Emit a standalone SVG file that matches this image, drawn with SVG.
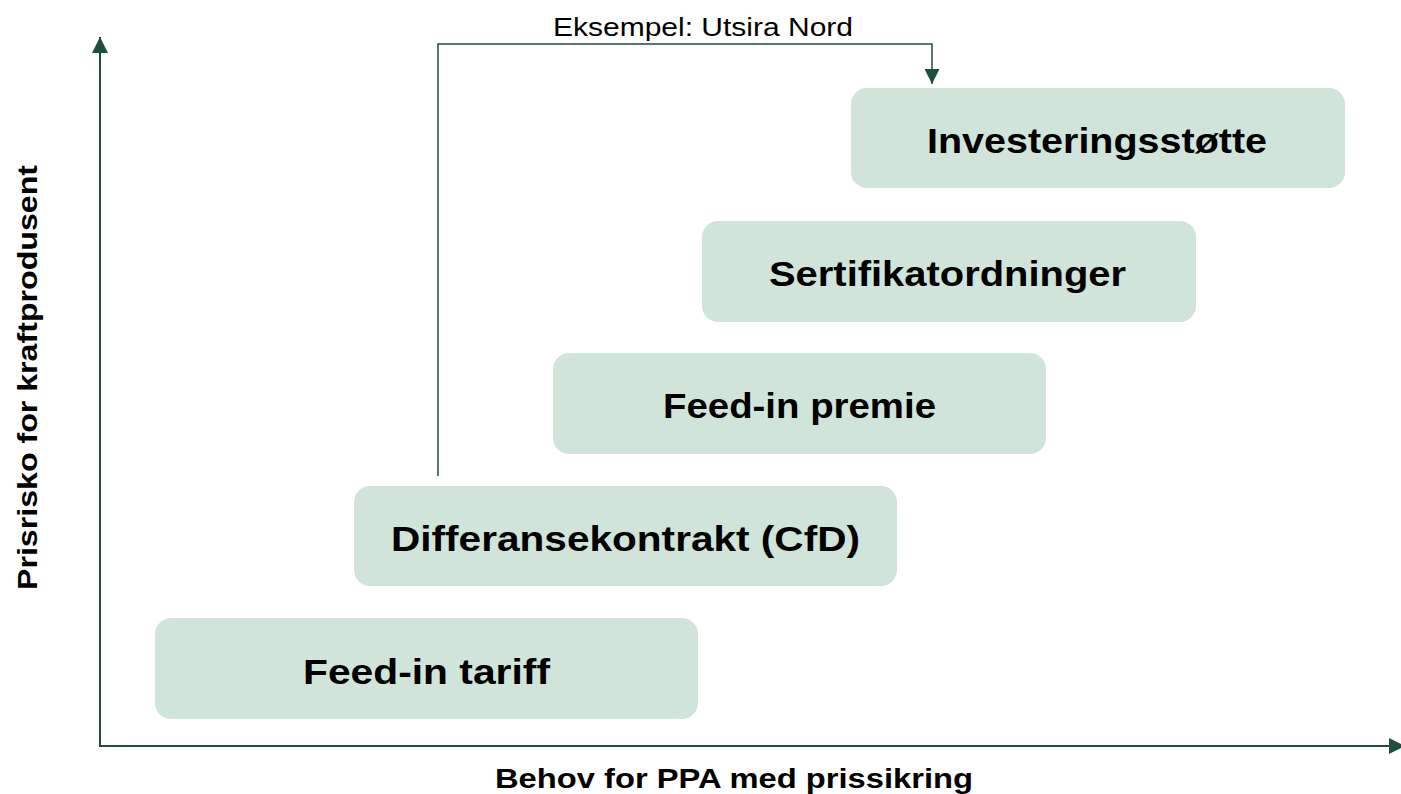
<svg xmlns="http://www.w3.org/2000/svg" width="1401" height="794" viewBox="0 0 1401 794">
<style>
.box{fill:#d0e4da;}
.bt{font-family:"Liberation Sans",Arial,sans-serif;font-weight:bold;font-size:35px;fill:#000;text-anchor:middle;}
.ax{font-family:"Liberation Sans",Arial,sans-serif;font-weight:bold;font-size:28px;fill:#000;text-anchor:middle;}
.ln{stroke:#1f4e3b;stroke-width:2;fill:none;}
.lbl{font-family:"Liberation Sans",Arial,sans-serif;font-size:25px;fill:#000;text-anchor:middle;}
</style>
<defs>
<marker id="ah" markerWidth="15" markerHeight="15" refX="15" refY="7.5" orient="auto" markerUnits="userSpaceOnUse" viewBox="0 0 15 15">
<path d="M0,0 L15,7.5 L0,15 z" fill="#1f4e3b"/>
</marker>
<marker id="ahl" markerWidth="16" markerHeight="16" refX="16" refY="8" orient="auto" markerUnits="userSpaceOnUse" viewBox="0 0 16 16">
<path d="M0,0 L16,8 L0,16 z" fill="#1f4e3b"/>
</marker>
</defs>
<rect width="1401" height="794" fill="#fff"/>
<g id="axes">
<line class="ln" x1="100" y1="747" x2="100" y2="37" marker-end="url(#ahl)"/>
<line class="ln" x1="100" y1="746" x2="1405" y2="746" marker-end="url(#ahl)"/>
<text class="ax" x="734" y="788" textLength="478" lengthAdjust="spacingAndGlyphs">Behov for PPA med prissikring</text>
<text class="ax" transform="translate(37,377.5) rotate(-90)" textLength="425" lengthAdjust="spacingAndGlyphs">Prisrisko for kraftprodusent</text>
</g>
<g id="node-feedin-tariff">
<rect class="box" x="155" y="618" width="543" height="101" rx="16"/>
<text class="bt" x="426.5" y="684" textLength="247" lengthAdjust="spacingAndGlyphs">Feed-in tariff</text>
</g>
<g id="node-cfd">
<rect class="box" x="354" y="486" width="543" height="100" rx="16"/>
<text class="bt" x="625.5" y="551" textLength="469" lengthAdjust="spacingAndGlyphs">Differansekontrakt (CfD)</text>
</g>
<g id="node-feedin-premie">
<rect class="box" x="553" y="353" width="493" height="101" rx="16"/>
<text class="bt" x="799.5" y="418" textLength="273" lengthAdjust="spacingAndGlyphs">Feed-in premie</text>
</g>
<g id="node-sertifikat">
<rect class="box" x="702" y="221" width="494" height="101" rx="16"/>
<text class="bt" x="947.5" y="286" textLength="357" lengthAdjust="spacingAndGlyphs">Sertifikatordninger</text>
</g>
<g id="node-investering">
<rect class="box" x="851" y="88" width="494" height="100" rx="16"/>
<text class="bt" x="1097" y="153" textLength="340" lengthAdjust="spacingAndGlyphs">Investeringsstøtte</text>
</g>
<g id="connectors">
<polyline class="ln" points="438,476 438,44 932,44 932,84" marker-end="url(#ah)" style="stroke-width:1.5"/>
<text class="lbl" x="703" y="36" textLength="300" lengthAdjust="spacingAndGlyphs">Eksempel: Utsira Nord</text>
</g>
</svg>
